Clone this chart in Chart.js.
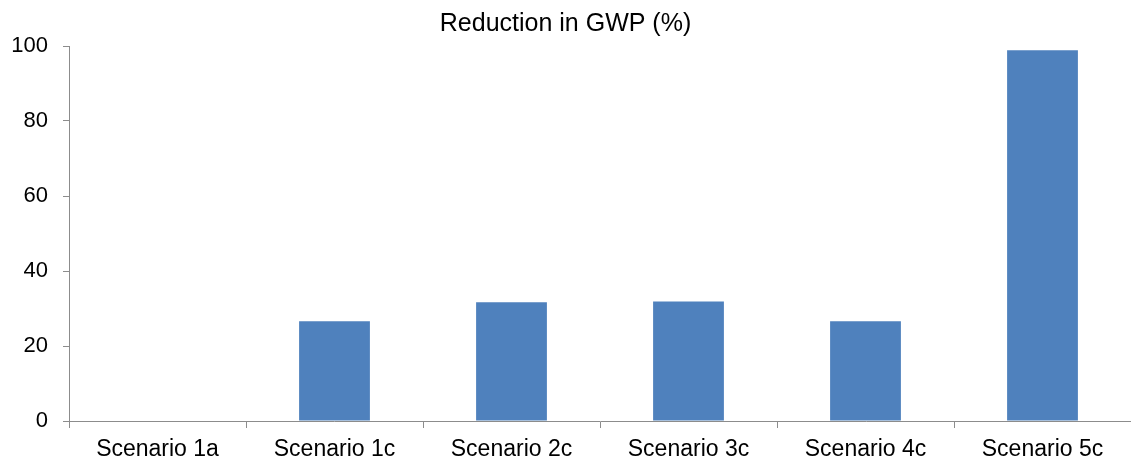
<!DOCTYPE html>
<html>
<head>
<meta charset="utf-8">
<script src="https://cdn.jsdelivr.net/npm/chart.js@4"></script>
<style>
  html, body { margin: 0; padding: 0; background: #ffffff; }
  #wrap { width: 1131px; height: 465px; position: relative; }
</style>
</head>
<body>
<div id="wrap"><canvas id="chart"></canvas></div>
<script>
// Scenario labels along the x axis
const categories = ['Scenario 1a', 'Scenario 1c', 'Scenario 2c', 'Scenario 3c', 'Scenario 4c', 'Scenario 5c'];
// Reduction in global warming potential, percent
const gwpReduction = [0, 26.6, 31.7, 31.9, 26.6, 98.9];
// Y axis tick values
const yTicks = [0, 20, 40, 60, 80, 100];

const axisGrey = '#8c8c8c';
const fontFamily = '"Liberation Sans", Arial, sans-serif';

new Chart(document.getElementById('chart'), {
  type: 'bar',
  data: {
    labels: categories,
    datasets: [{
      label: 'Reduction in GWP (%)',
      data: gwpReduction,
      backgroundColor: '#4f81bd',
      borderWidth: 0,
      barPercentage: 0.4,
      categoryPercentage: 1.0
    }]
  },
  options: {
    responsive: true,
    maintainAspectRatio: false,
    animation: false,
    layout: { padding: { left: 0, right: 0, top: 0, bottom: 0 } },
    plugins: {
      legend: { display: false },
      tooltip: { enabled: false },
      title: {
        display: true,
        text: 'Reduction in GWP (%)',
        color: '#000000',
        font: { family: fontFamily, size: 25, weight: 'normal' },
        padding: { top: 9, bottom: 7 }
      }
    },
    scales: {
      x: {
        offset: true,
        afterFit: (scale) => { scale.height = 44; },
        grid: {
          offset: true,
          drawOnChartArea: false,
          drawTicks: true,
          tickLength: 7,
          color: axisGrey,
          lineWidth: 1
        },
        border: { display: true, color: axisGrey, width: 1 },
        ticks: {
          color: '#000000',
          font: { family: fontFamily, size: 23 },
          padding: 8,
          maxRotation: 0,
          autoSkip: false
        }
      },
      y: {
        min: 0,
        max: 100,
        afterBuildTicks: (scale) => { scale.ticks = yTicks.map(v => ({ value: v })); },
        afterFit: (scale) => { scale.width = 69; },
        grid: {
          drawOnChartArea: false,
          drawTicks: true,
          tickLength: 6,
          color: axisGrey,
          lineWidth: 1
        },
        border: { display: true, color: axisGrey, width: 1 },
        ticks: {
          color: '#000000',
          font: { family: fontFamily, size: 22 },
          padding: 15
        }
      }
    }
  }
});
</script>
</body>
</html>
